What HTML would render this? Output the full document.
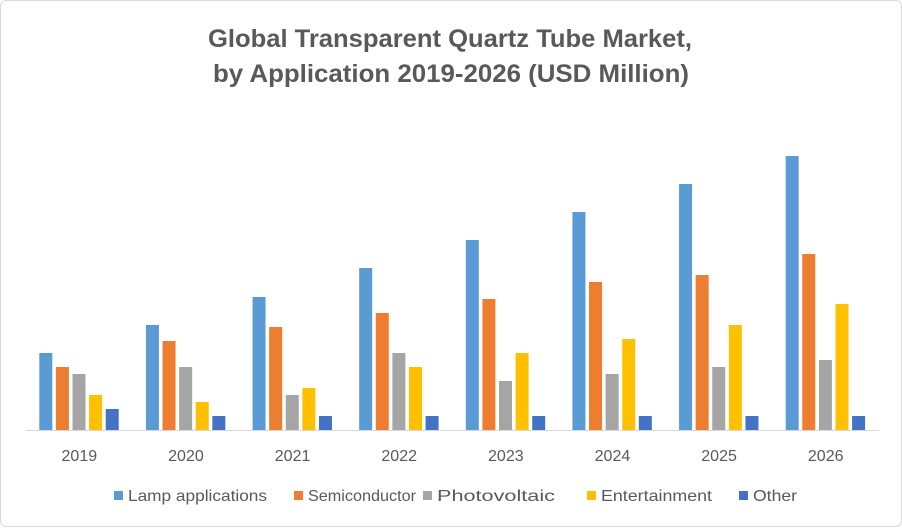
<!DOCTYPE html>
<html><head><meta charset="utf-8"><style>
body{margin:0;background:#fff}
#c{position:relative;width:902px;height:527px;box-sizing:border-box;border:1px solid #d9d9d9;border-radius:6px;background:#fff;font-family:"Liberation Sans",sans-serif}
</style></head><body>
<div id="c">
<svg id="s" width="900" height="525"></svg>
</div>
<script>
const years=["2019","2020","2021","2022","2023","2024","2025","2026"];
const seriesNames=["Lamp applications","Semiconductor","Photovoltaic","Entertainment","Other"];
const lamp=[77,105,133,162,190,218,246,274];
const semi=[63,89,103,117,131,148,155,176];
const photo=[56,63,35,77,49,56,63,70];
const ent=[35,28,42,63,77,91,105,126];
const other=[21,14,14,14,14,14,14,14];
const colors=["#5B9BD5","#ED7D31","#A5A5A5","#FFC000","#4472C4"];
const data=[lamp,semi,photo,ent,other];
const NS="http://www.w3.org/2000/svg";
const svg=document.getElementById('s');
function mk(t,a,p){const e=document.createElementNS(NS,t);for(const k in a)e.setAttribute(k,a[k]);(p||svg).appendChild(e);return e;}
const x0=25,x1=878,base=429,yMax=280,plotH=280;
const gw=(x1-x0)/years.length;
const y=v=>base-v/yMax*plotH;
let t=mk('text',{x:207,y:46,'font-size':'25','font-weight':'bold',fill:'#595959',textLength:484,lengthAdjust:'spacingAndGlyphs'});
t.textContent="Global Transparent Quartz Tube Market,";

t=mk('text',{x:212,y:81,'font-size':'25','font-weight':'bold',fill:'#595959',textLength:476,lengthAdjust:'spacingAndGlyphs'});
t.textContent="by Application 2019-2026 (USD Million)";

years.forEach((yr,i)=>{
  const c=x0+gw*(i+0.5);
  data.forEach((arr,j)=>{
    const bx=c-40+j*16.6;
    const r=mk('rect',{x:bx,y:y(arr[i]),width:13,height:base-y(arr[i]),fill:colors[j]});
    
    
  });
  const l=mk('text',{x:c,y:460,'text-anchor':'middle','font-size':'16',fill:'#595959'});
  l.textContent=yr;
  
  
});
const ax=mk('line',{x1:x0,x2:x1,y1:base+0.5,y2:base+0.5,stroke:'#d9d9d9','stroke-width':1});

const lx=[113,293,422,586,738];
const lw=[139,108,118,111,44];
seriesNames.forEach((n,j)=>{
  const g=mk('g',{});
  
  
  mk('rect',{x:lx[j],y:490,width:9,height:9,fill:colors[j]},g);
  const tt=mk('text',{x:lx[j]+14,y:500,'font-size':'16',fill:'#595959',textLength:lw[j],lengthAdjust:'spacingAndGlyphs'},g);
  tt.textContent=n;
});
</script>
</body></html>
